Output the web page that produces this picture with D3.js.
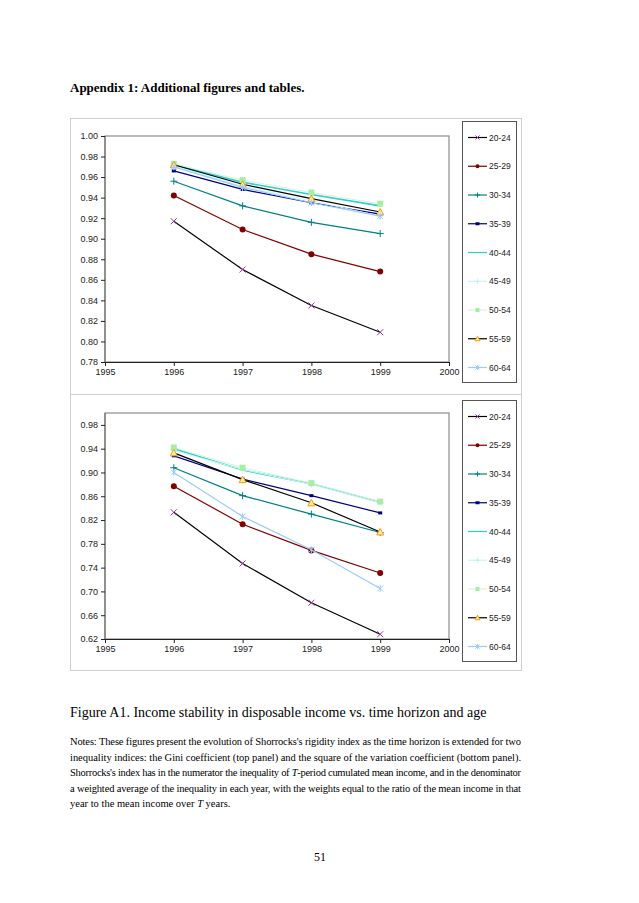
<!DOCTYPE html>
<html>
<head>
<meta charset="utf-8">
<script src="https://cdn.jsdelivr.net/npm/d3@7"></script>
<style>
  body { margin: 0; background: #fff; }
  svg { display: block; }
</style>
</head>
<body>
<svg id="page"></svg>
<script>
// values
var years = [1996, 1997, 1998, 1999];
var ageGroups = ["20-24", "25-29", "30-34", "35-39", "40-44", "45-49", "50-54", "55-59", "60-64"];

// top panel: Gini coefficient
var giniValues = [
  [0.917, 0.870, 0.835, 0.809],
  [0.942, 0.909, 0.885, 0.868],
  [0.956, 0.932, 0.916, 0.905],
  [0.966, 0.948, 0.935, 0.924],
  [0.972, 0.955, 0.943, 0.932],
  [0.971, 0.951, 0.937, 0.922],
  [0.973, 0.957, 0.945, 0.934],
  [0.972, 0.953, 0.939, 0.926],
  [0.970, 0.950, 0.935, 0.922]
];

// bottom panel: squared coefficient of variation
var cvValues = [
  [0.833, 0.747, 0.681, 0.628],
  [0.877, 0.813, 0.769, 0.731],
  [0.908, 0.861, 0.830, 0.799],
  [0.928, 0.889, 0.861, 0.832],
  [0.940, 0.904, 0.881, 0.850],
  [0.937, 0.905, 0.880, 0.849],
  [0.942, 0.908, 0.882, 0.851],
  [0.933, 0.888, 0.849, 0.800],
  [0.900, 0.826, 0.770, 0.705]
];

var xTickLabels = [1995, 1996, 1997, 1998, 1999, 2000];
var giniTicks = [0.78, 0.80, 0.82, 0.84, 0.86, 0.88, 0.90, 0.92, 0.94, 0.96, 0.98, 1.00];
var cvTicks = [0.62, 0.66, 0.70, 0.74, 0.78, 0.82, 0.86, 0.90, 0.94, 0.98];

var lineColors   = ["#000000", "#800000", "#008080", "#000080", "#33cccc", "#c6f7f7", "#d4f5d4", "#000000", "#99ccff"];
var markerColors = ["#993399", "#800000", "#008080", "#000080", "#33cccc", "#bff0f0", "#a6eea6", "#ff9900", "#99ccff"];
var markerShapes = ["x", "circle", "plus", "dash", "none", "plus", "square", "triangle", "star"];
var lineWidths   = [1.2, 1.2, 1.2, 1.2, 1.6, 1, 1, 1.2, 1.2];

var W = 639, H = 903;
var svg = d3.select("#page").attr("width", W).attr("height", H);

var serif = "'Liberation Serif', 'Times New Roman', serif";
var sans = "'Liberation Sans', Arial, sans-serif";

svg.append("text")
  .attr("x", 70).attr("y", 92)
  .style("font-family", serif).style("font-weight", "bold").style("font-size", "13px")
  .text("Appendix 1: Additional figures and tables.");

// outer frame of the two chart panels
svg.append("rect").attr("x", 70.5).attr("y", 118.5).attr("width", 451).attr("height", 552)
  .attr("fill", "none").attr("stroke", "#cfcfcf");
svg.append("line").attr("x1", 70.5).attr("x2", 521.5).attr("y1", 394.5).attr("y2", 394.5)
  .attr("stroke", "#cfcfcf");

var xScale = d3.scaleLinear().domain([1995, 2000]).range([105, 449]);

function drawMarker(g, shape, x, y, col, s) {
  if (shape == "circle") {
    g.append("circle").attr("cx", x).attr("cy", y).attr("r", s).attr("fill", col);
  } else if (shape == "square") {
    g.append("rect").attr("x", x - s).attr("y", y - s).attr("width", 2 * s).attr("height", 2 * s)
      .attr("fill", col);
  } else if (shape == "triangle") {
    g.append("path").attr("d", "M" + x + "," + (y - s - 0.5) + "L" + (x + s + 0.5) + "," + (y + s) + "L" + (x - s - 0.5) + "," + (y + s) + "Z")
      .attr("fill", "#ffeeaa").attr("stroke", col).attr("stroke-width", 1);
  } else if (shape == "x") {
    g.append("path").attr("d", "M" + (x - s) + "," + (y - s) + "L" + (x + s) + "," + (y + s) + "M" + (x + s) + "," + (y - s) + "L" + (x - s) + "," + (y + s))
      .attr("stroke", col).attr("stroke-width", 1);
  } else if (shape == "plus") {
    g.append("path").attr("d", "M" + (x - s - 0.5) + "," + y + "L" + (x + s + 0.5) + "," + y + "M" + x + "," + (y - s - 0.5) + "L" + x + "," + (y + s + 0.5))
      .attr("stroke", col).attr("stroke-width", 1);
  } else if (shape == "star") {
    g.append("path").attr("d", "M" + (x - s) + "," + (y - s) + "L" + (x + s) + "," + (y + s) + "M" + (x + s) + "," + (y - s) + "L" + (x - s) + "," + (y + s) + "M" + x + "," + (y - s - 0.5) + "L" + x + "," + (y + s + 0.5))
      .attr("stroke", col).attr("stroke-width", 1);
  } else if (shape == "dash") {
    g.append("rect").attr("x", x - 2).attr("y", y - 1.5).attr("width", 4).attr("height", 3).attr("fill", col);
  }
}

var drawPanel = function(values, domain, ticks, plotTop, legendTop) {
  var plotBottom = plotTop + 226;
  var yScale = d3.scaleLinear().domain(domain).range([plotBottom, plotTop]);
  var g = svg.append("g");

  // plot area border
  g.append("rect").attr("x", 105).attr("y", plotTop).attr("width", 344).attr("height", 226)
    .attr("fill", "#fff").attr("stroke", "#8c8c8c").attr("stroke-width", 1.2);

  var yAxis = d3.axisLeft(yScale).tickValues(ticks).tickFormat(d3.format(".2f")).tickSize(4).tickPadding(3);
  var ya = g.append("g").attr("transform", "translate(105,0)").call(yAxis);
  var xAxis = d3.axisBottom(xScale).tickValues(xTickLabels).tickFormat(d3.format("d")).tickSize(4).tickPadding(3);
  var xa = g.append("g").attr("transform", "translate(0," + plotBottom + ")").call(xAxis);
  [ya, xa].forEach(function(a) {
    a.selectAll("text").style("font-family", sans).style("font-size", "9px").attr("fill", "#222");
    a.selectAll("line").attr("stroke", "#222");
    a.select(".domain").attr("stroke", "#222");
  });
  ya.select(".domain").attr("d", "M0," + plotTop + "V" + plotBottom).attr("stroke", "#666");

  var line = d3.line().x(function(d, i) { return xScale(years[i]); }).y(function(d) { return yScale(d); });

  values.forEach(function(series, k) {
    g.append("path").datum(series).attr("d", line)
      .attr("fill", "none").attr("stroke", lineColors[k]).attr("stroke-width", lineWidths[k]);
    series.forEach(function(v, i) {
      drawMarker(g, markerShapes[k], xScale(years[i]), yScale(v), markerColors[k], 3);
    });
  });

  // legend
  var lg = g.append("g");
  lg.append("rect").attr("x", 462.5).attr("y", legendTop + 0.5).attr("width", 54).attr("height", 261)
    .attr("fill", "#fff").attr("stroke", "#555");
  ageGroups.forEach(function(name, k) {
    var y = legendTop + 16.5 + k * 28.75;
    lg.append("line").attr("x1", 468).attr("x2", 487).attr("y1", y).attr("y2", y)
      .attr("stroke", lineColors[k]).attr("stroke-width", 1.2);
    drawMarker(lg, markerShapes[k], 477.5, y, markerColors[k], 2);
    lg.append("text").attr("x", 489).attr("y", y + 3)
      .style("font-family", sans).style("font-size", "8.5px").attr("fill", "#222").text(name);
  });
};

drawPanel(giniValues, [0.78, 1.00], giniTicks, 136, 121);
drawPanel(cvValues, [0.62, 1.00], cvTicks, 413, 400);

svg.append("text")
  .attr("x", 70).attr("y", 717)
  .style("font-family", serif).style("font-size", "14px")
  .text("Figure A1. Income stability in disposable income vs. time horizon and age");

var noteLines = [
  "Notes: These figures present the evolution of Shorrocks's rigidity index as the time horizon is extended for two",
  "inequality indices: the Gini coefficient (top panel) and the square of the variation coefficient (bottom panel).",
  "Shorrocks's index has in the numerator the inequality of <i>T</i>-period cumulated mean income, and in the denominator",
  "a weighted average of the inequality in each year, with the weights equal to the ratio of the mean income in that",
  "year to the mean income over <i>T</i> years."
];
noteLines.forEach(function(s, i) {
  var t = svg.append("text").attr("x", 70).attr("y", 745 + i * 15.5)
    .style("font-family", serif).style("font-size", "10.5px");
  if (i < 4) t.attr("textLength", 451).attr("lengthAdjust", "spacing");
  var parts = s.split(/<i>|<\/i>/);
  parts.forEach(function(p, j) {
    var ts = t.append("tspan").text(p);
    if (j % 2 == 1) ts.style("font-style", "italic");
  });
});

svg.append("text").attr("x", 320).attr("y", 861).attr("text-anchor", "middle")
  .style("font-family", serif).style("font-size", "12px").text("51");
</script>
</body>
</html>
